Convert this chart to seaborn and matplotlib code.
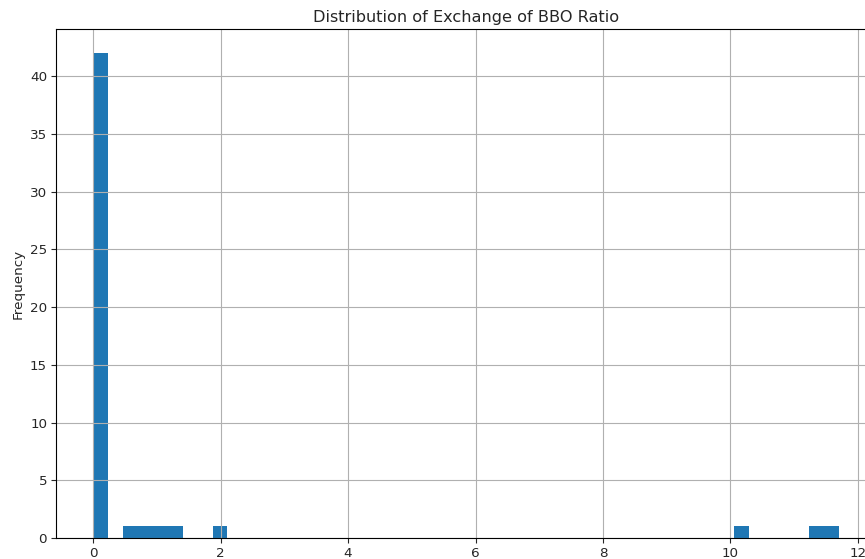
import matplotlib
matplotlib.use("Agg")
import matplotlib.pyplot as plt
import seaborn as sns
import pandas as pd

# Data: representative ratio values and how many observations fall at each
ratio_values = [0.1, 0.55, 0.8, 1.0, 1.25, 1.95, 10.2, 11.35, 11.6]
ratio_counts = [42, 1, 1, 1, 1, 1, 1, 1, 1]
n_bins = 50
data_min, data_max = 0.0, 11.7

title = "Distribution of Exchange of BBO Ratio"
ylabel = "Frequency"

sns.set_style("ticks")
plt.rcParams["font.family"] = ["DejaVu Sans"]
plt.rcParams["axes.axisbelow"] = "line"
plt.rcParams["axes.edgecolor"] = "black"

df = pd.DataFrame({"ratio": ratio_values, "count": ratio_counts})

fig = plt.figure(figsize=(8.65, 5.59), dpi=100)
ax = fig.add_axes([0.0647, 0.0376, 0.948, 0.9105])

sns.histplot(data=df, x="ratio", weights="count", bins=n_bins,
             binrange=(data_min, data_max), color="#1f77b4", alpha=1.0,
             edgecolor="none", linewidth=0, ax=ax)

span = data_max - data_min
ax.set_xlim(data_min - 0.05 * span, data_max + 0.05 * span)
ax.set_ylim(0, max(ratio_counts) * 1.05)
ax.grid(True, color="#b0b0b0", linewidth=0.8)
ax.set_title(title, fontsize=11.6, pad=5)
ax.set_xlabel("")
ax.set_ylabel(ylabel, fontsize=9.7)
ax.tick_params(labelsize=9.7, direction="out", length=3.4, width=0.8, pad=3)
for s in ax.spines.values():
    s.set_linewidth(0.8)
    s.set_visible(True)

fig.savefig("out.png", dpi=100)
